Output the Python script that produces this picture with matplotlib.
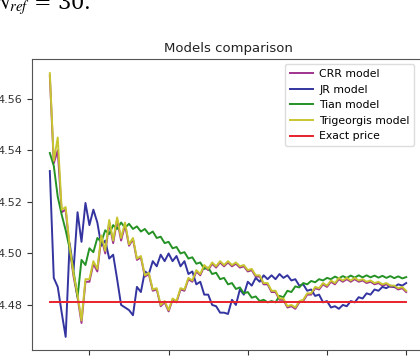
import matplotlib
matplotlib.use("Agg")
import matplotlib.pyplot as plt

N_steps = list(range(10, 101))

trigeorgis = [4.570, 4.536, 4.545, 4.517, 4.518, 4.503, 4.492, 4.484, 4.474, 4.490,
              4.490, 4.497, 4.494, 4.507, 4.501, 4.513, 4.505, 4.514, 4.506, 4.512,
              4.5035, 4.506, 4.498, 4.499, 4.4915, 4.4925, 4.486, 4.4865, 4.480, 4.4815,
              4.478, 4.4825, 4.4815, 4.4865, 4.486, 4.4905, 4.4895, 4.4935, 4.492, 4.4955,
              4.494, 4.4965, 4.495, 4.497, 4.4955, 4.497, 4.4955, 4.4965, 4.495, 4.4955,
              4.4935, 4.494, 4.4915, 4.4915, 4.4885, 4.4885, 4.4855, 4.4855, 4.4825, 4.4825,
              4.4795, 4.480, 4.479, 4.4815, 4.482, 4.4845, 4.4845, 4.4870, 4.4865, 4.4885,
              4.4875, 4.4895, 4.4885, 4.4905, 4.4895, 4.4905, 4.4895, 4.4905, 4.4895, 4.490,
              4.489, 4.4895, 4.4885, 4.489, 4.488, 4.4885, 4.4875, 4.4875, 4.4865, 4.487,
              4.4855]

crr = [4.569, 4.535, 4.540, 4.516, 4.517, 4.502, 4.491, 4.483, 4.473, 4.489,
       4.489, 4.496, 4.493, 4.506, 4.500, 4.512, 4.504, 4.513, 4.505, 4.511,
       4.503, 4.5055, 4.4975, 4.4985, 4.491, 4.492, 4.4855, 4.486, 4.4795, 4.481,
       4.4775, 4.482, 4.481, 4.486, 4.4855, 4.490, 4.489, 4.493, 4.4915, 4.495,
       4.4935, 4.496, 4.4945, 4.4965, 4.495, 4.4965, 4.495, 4.496, 4.4945, 4.495,
       4.493, 4.4935, 4.491, 4.491, 4.488, 4.488, 4.485, 4.485, 4.482, 4.482,
       4.479, 4.4795, 4.4785, 4.481, 4.4815, 4.484, 4.484, 4.4865, 4.486, 4.488,
       4.487, 4.489, 4.488, 4.490, 4.489, 4.490, 4.489, 4.490, 4.489, 4.4895,
       4.4885, 4.489, 4.488, 4.4885, 4.4875, 4.488, 4.487, 4.487, 4.486, 4.4865,
       4.485]

jr = [4.532, 4.4905, 4.487, 4.477, 4.4676, 4.504, 4.4936, 4.516, 4.5045, 4.5196,
      4.511, 4.517, 4.512, 4.503, 4.505, 4.498, 4.4995, 4.490, 4.480, 4.479,
      4.478, 4.476, 4.487, 4.485, 4.493, 4.492, 4.497, 4.495, 4.4995, 4.497,
      4.500, 4.497, 4.499, 4.495, 4.497, 4.492, 4.493, 4.488, 4.489, 4.484,
      4.484, 4.480, 4.4795, 4.477, 4.477, 4.4765, 4.482, 4.480, 4.486, 4.484,
      4.489, 4.4875, 4.4905, 4.489, 4.4915, 4.490, 4.4915, 4.490, 4.492, 4.4905,
      4.4915, 4.4895, 4.490, 4.4875, 4.488, 4.4855, 4.486, 4.4835, 4.484, 4.481,
      4.4815, 4.479, 4.4795, 4.4785, 4.480, 4.4795, 4.4815, 4.481, 4.483, 4.4825,
      4.4845, 4.484, 4.486, 4.4855, 4.487, 4.4865, 4.4875, 4.487, 4.488, 4.4875,
      4.4885]

tian = [4.539, 4.534, 4.522, 4.515, 4.509, 4.502, 4.493, 4.483, 4.4975, 4.4955,
        4.502, 4.5005, 4.506, 4.5045, 4.509, 4.5075, 4.511, 4.5095, 4.512, 4.510,
        4.5115, 4.5095, 4.5105, 4.5085, 4.5095, 4.5075, 4.5085, 4.506, 4.5065, 4.504,
        4.5045, 4.502, 4.5025, 4.500, 4.5005, 4.498, 4.4985, 4.496, 4.4965, 4.494,
        4.4945, 4.492, 4.4925, 4.490, 4.4905, 4.488, 4.4885, 4.4862, 4.4868, 4.4845,
        4.485, 4.4828, 4.4833, 4.4815, 4.482, 4.481, 4.4815, 4.481, 4.4835, 4.4830,
        4.4855, 4.485, 4.4872, 4.4868, 4.4885, 4.488, 4.4893, 4.4888, 4.490, 4.4895,
        4.4905, 4.490, 4.491, 4.4903, 4.4912, 4.4905, 4.4914, 4.4906, 4.4915, 4.4907,
        4.4915, 4.4907, 4.4914, 4.4906, 4.4913, 4.4905, 4.4912, 4.4904, 4.4911, 4.4903,
        4.4908]

exact_price = 4.4812

series_labels = ["CRR model", "JR model", "Tian model", "Trigeorgis model", "Exact price"]
series_colors = ["#a0338c", "#3434a0", "#259225", "#c8c630", "#e8232b"]

fig = plt.figure(figsize=(4.2, 3.6), dpi=100)
fig.patch.set_facecolor("white")
ax = fig.add_axes([32 / 420, 10 / 360, 392 / 420, 291 / 360])

ax.plot(N_steps, crr, color=series_colors[0], lw=1.4, label=series_labels[0])
ax.plot(N_steps, jr, color=series_colors[1], lw=1.4, label=series_labels[1])
ax.plot(N_steps, tian, color=series_colors[2], lw=1.4, label=series_labels[2])
ax.plot(N_steps, trigeorgis, color=series_colors[3], lw=1.4, label=series_labels[3])
ax.plot(N_steps, [exact_price] * len(N_steps), color=series_colors[4], lw=1.4,
        label=series_labels[4])

ax.set_xlim(5.5, 104.5)
ax.set_ylim(4.4625, 4.5755)
ax.set_xticks([20, 40, 60, 80, 100])
ax.set_yticks([4.48, 4.50, 4.52, 4.54, 4.56])
ax.set_yticklabels(["4.48", "4.50", "4.52", "4.54", "4.56"])
ax.tick_params(labelsize=8, colors="#333333")
for s in ax.spines.values():
    s.set_color("#555555")
ax.set_title("Models comparison", fontsize=9.5, color="#222222", pad=5)

leg = ax.legend(loc="upper left", bbox_to_anchor=((285 - 32) / 392, 1 - 5 / 291),
                borderaxespad=0, fontsize=7.8, handlelength=2.1, handletextpad=0.6,
                labelspacing=0.52, borderpad=0.45, framealpha=1)
leg.get_frame().set_edgecolor("#dddddd")

fig.text(-5 / 420, 1 - 9 / 360, r"$N_{ref}$ = 30.", fontsize=15,
         family="DejaVu Serif", math_fontfamily="stix", va="baseline", ha="left")

fig.savefig("out.png", dpi=100)
